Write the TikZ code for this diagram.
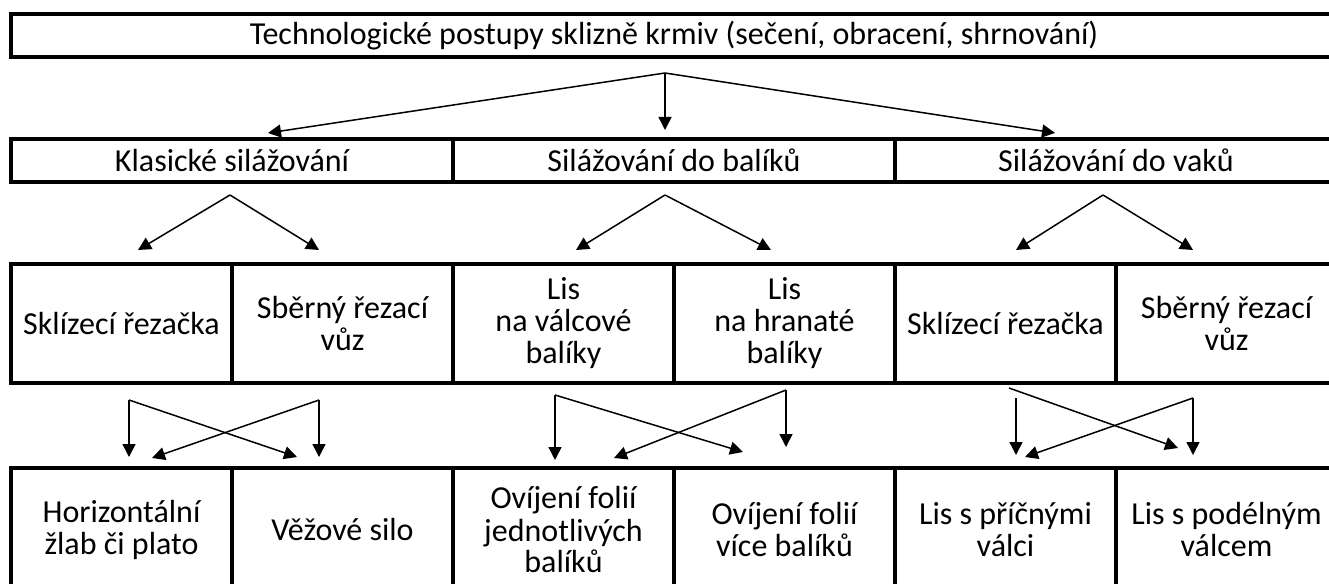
\documentclass[tikz,border=0pt]{standalone}
\usepackage{fontspec}
\setmainfont{Carlito}
\usetikzlibrary{arrows.meta}
\begin{document}
\begin{tikzpicture}[x=1pt,y=-1pt,
  cell/.style={draw, line width=3.7pt, rectangle, inner sep=0pt, align=center,
    font=\fontsize{32}{32}\selectfont},
  wide/.style={cell, minimum width=442pt, minimum height=43pt},
  rowc/.style={cell, minimum width=221pt, minimum height=119pt},
  rowd/.style={cell, minimum width=221pt, minimum height=124pt},
  conn/.style={line width=1.5pt, -{Triangle[length=13pt,width=13pt]}},
]
\clip (0,0) rectangle (1329,583);
\fill[white] (0,0) rectangle (1329,583);
% row 1
\node[cell, minimum width=1326pt, minimum height=43pt] (title) at (674,35.5)
  {Technologické postupy sklizně krmiv (sečení, obracení, shrnování)};
% row 2
\node[wide] (klas) at (232,160.5) {Klasické silážování};
\node[wide] (bal) at (674,160.5) {Silážování do balíků};
\node[wide] (vak) at (1116,160.5) {Silážování do vaků};
% row 3
\node[rowc] (r3a) at (121.5,323.5) {Sklízecí řezačka};
\node[rowc] (r3b) at (342.5,323.5) {Sběrný řezací\\vůz};
\node[rowc] (r3c) at (563.5,323.5) {Lis\\na válcové\\balíky};
\node[rowc] (r3d) at (784.5,323.5) {Lis\\na hranaté\\balíky};
\node[rowc] (r3e) at (1005.5,323.5) {Sklízecí řezačka};
\node[rowc] (r3f) at (1226.5,323.5) {Sběrný řezací\\vůz};
% row 4
\node[rowd] (r4a) at (121.5,530) {Horizontální\\žlab či plato};
\node[rowd] (r4b) at (342.5,530) {Věžové silo};
\node[rowd] (r4c) at (563.5,530) {Ovíjení folií\\jednotlivých\\balíků};
\node[rowd] (r4d) at (784.5,530) {Ovíjení folií\\více balíků};
\node[rowd] (r4e) at (1005.5,530) {Lis s příčnými\\válci};
\node[rowd] (r4f) at (1226.5,530) {Lis s podélným\\válcem};
% coordinates: top fan
\coordinate (j0) at (665,73);
\coordinate (t1) at (268,133);
\coordinate (t2) at (665,130);
\coordinate (t3) at (1055,133);
\draw[conn] (j0) -- (t1);
\draw[conn] (j0) -- (t2);
\draw[conn] (j0) -- (t3);
% row 2 -> row 3
\coordinate (a1) at (230,195);
\coordinate (a1l) at (138,250);
\coordinate (a1r) at (319,250);
\coordinate (a2) at (665,195);
\coordinate (a2l) at (576,250);
\coordinate (a2r) at (771,250);
\coordinate (a3) at (1103,195);
\coordinate (a3l) at (1016,250);
\coordinate (a3r) at (1193,250);
\draw[conn] (a1) -- (a1l);
\draw[conn] (a1) -- (a1r);
\draw[conn] (a2) -- (a2l);
\draw[conn] (a2) -- (a2r);
\draw[conn] (a3) -- (a3l);
\draw[conn] (a3) -- (a3r);
% row 3 -> row 4, left group
\coordinate (l1) at (129,400);
\coordinate (l2) at (319,400);
\coordinate (l1v) at (129,457);
\coordinate (l1d) at (297,457);
\coordinate (l2v) at (319,457);
\coordinate (l2d) at (152,458);
\draw[conn] (l1) -- (l1v);
\draw[conn] (l1) -- (l1d);
\draw[conn] (l2) -- (l2v);
\draw[conn] (l2) -- (l2d);
% middle group
\coordinate (m1) at (555,395);
\coordinate (m2) at (786,390);
\coordinate (m1v) at (555,460);
\coordinate (m1d) at (743,452);
\coordinate (m2v) at (786,447);
\coordinate (m2d) at (614,458);
\draw[conn] (m1) -- (m1v);
\draw[conn] (m1) -- (m1d);
\draw[conn] (m2) -- (m2v);
\draw[conn] (m2) -- (m2d);
% right group
\coordinate (n1) at (1016,398);
\coordinate (n1s) at (1009,388);
\coordinate (n2) at (1193,398);
\coordinate (n1v) at (1016,455);
\coordinate (n1d) at (1178,448);
\coordinate (n2v) at (1193,455);
\coordinate (n2d) at (1025,457);
\draw[conn] (n1) -- (n1v);
\draw[conn] (n1s) -- (n1d);
\draw[conn] (n2) -- (n2v);
\draw[conn] (n2) -- (n2d);
\end{tikzpicture}
\end{document}
